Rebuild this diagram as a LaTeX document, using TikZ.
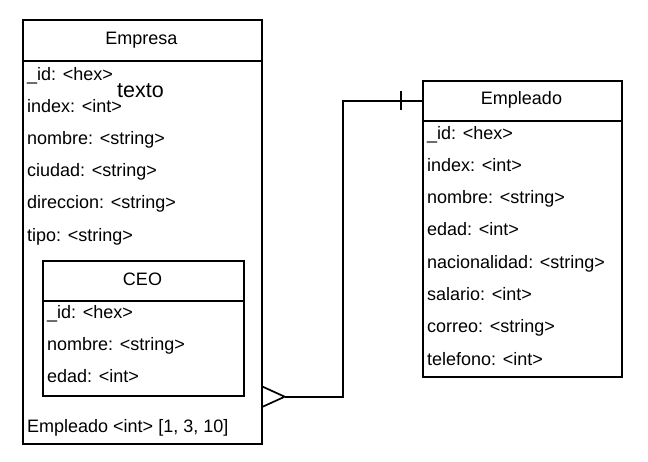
\documentclass[tikz,border=0pt]{standalone}
\usepackage{fontspec}
\setmainfont{Liberation Sans}
\usetikzlibrary{calc}
\tikzset{
  tbl/.style={draw=black, line width=1.7pt, fill=none, inner sep=0pt, anchor=north west},
  hdr/.style={tbl, font=\fontsize{18}{20}\selectfont},
  row/.style={anchor=base west, inner sep=0pt, font=\fontsize{18}{20}\selectfont},
  conn/.style={draw=black, line width=1.7pt},
  big/.style={anchor=base west, inner sep=0pt, font=\fontsize{21.5}{24}\selectfont},
}
\begin{document}
\begin{tikzpicture}[x=1pt, y=-1pt]
\useasboundingbox (0,0) rectangle (648,461);
% Empresa
\node[hdr, minimum width=239pt, minimum height=41pt] (emphdrA) at (22,19) {};
\node[tbl, minimum width=239pt, minimum height=383pt] (empbody) at (22,60) {};
\node[row, anchor=base] (tEmpresa) at (141.5,44) {Empresa};
\node[row] (e1) at (27,80) {\_id: <hex>};
\node[row] (e2) at (27,112.2) {index: <int>};
\node[row] (e3) at (27,144.4) {nombre: <string>};
\node[row] (e4) at (27,176.6) {ciudad: <string>};
\node[row] (e5) at (27,208.8) {direccion: <string>};
\node[row] (e6) at (27,241) {tipo: <string>};
\node[big] (texto) at (117,97.5) {texto};
% CEO
\node[hdr, minimum width=201pt, minimum height=40pt] (ceohdr) at (42,260) {};
\node[tbl, minimum width=201pt, minimum height=95pt] (ceobody) at (42,300) {};
\node[row, anchor=base] (tCEO) at (142.5,285) {CEO};
\node[row] (c1) at (47,318.5) {\_id: <hex>};
\node[row] (c2) at (47,350.5) {nombre: <string>};
\node[row] (c3) at (47,382.5) {edad: <int>};
\node[row] (e7) at (27,432) {Empleado <int> [1, 3, 10]};
% Empleado
\node[hdr, minimum width=199pt, minimum height=40pt] (emphdr) at (422,80) {};
\node[tbl, minimum width=199pt, minimum height=256pt] (emplbody) at (422,120) {};
\node[row, anchor=base] (tEmpleado) at (521.5,104) {Empleado};
\node[row] (m1) at (427,139) {\_id: <hex>};
\node[row] (m2) at (427,171.3) {index: <int>};
\node[row] (m3) at (427,203.6) {nombre: <string>};
\node[row] (m4) at (427,235.9) {edad: <int>};
\node[row] (m5) at (427,268.2) {nacionalidad: <string>};
\node[row] (m6) at (427,300.5) {salario: <int>};
\node[row] (m7) at (427,332.8) {correo: <string>};
\node[row] (m8) at (427,365.1) {telefono: <int>};
% connector
\coordinate (base) at (empbody.east |- ceobody.south);
\coordinate (foot) at ($(base)+(22,0)$);
\draw[conn] ($(base)+(0,-10)$) -- (foot) -- ($(base)+(0,10)$);
\draw[conn] (foot) -- ++(58,0) |- (emphdr.west);
\draw[conn] ($(emphdr.west)+(-21,-9.5)$) -- ++(0,19);
\end{tikzpicture}
\end{document}
